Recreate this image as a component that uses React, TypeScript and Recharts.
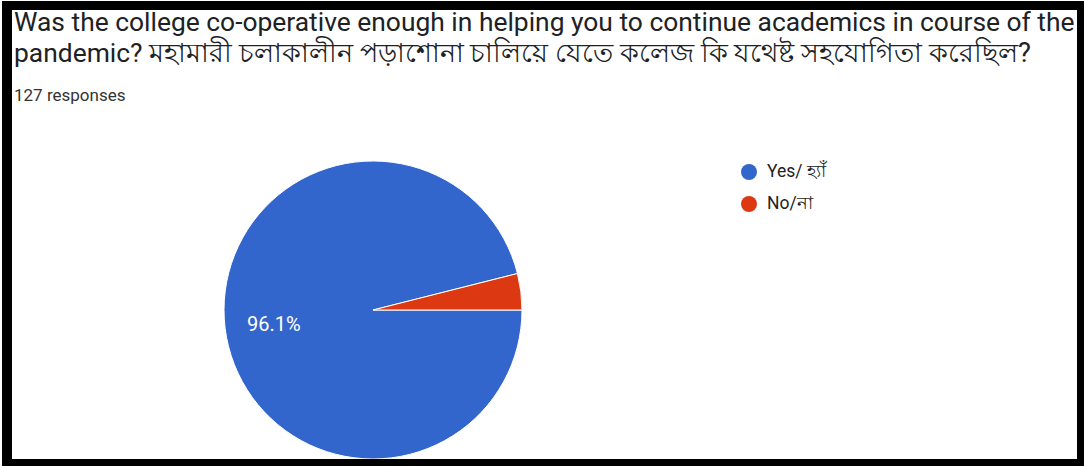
import { PieChart, Pie, Cell, Legend } from 'recharts'

const answers = ['Yes/ হ্যাঁ', 'No/না']
const counts = [122, 5]
const colors = ['#3366cc', '#dc3912']

const titleLine1 = 'Was the college co-operative enough in helping you to continue academics in course of the'
const titleLine2En = 'pandemic? '
const titleLine2Bn = 'মহামারী চলাকালীন পড়াশোনা চালিয়ে যেতে কলেজ কি যথেষ্ট সহযোগিতা করেছিল?'
const responsesText = '127 responses'

const data = answers.map((name, i) => ({ name, value: counts[i] }))
const total = counts.reduce((a, b) => a + b, 0)

const RAD = Math.PI / 180

function renderLabel(props: any) {
  const { cx, cy, midAngle, outerRadius, value, index } = props
  const pct = (value / total) * 100
  if (pct < 10) return null
  const r = outerRadius * 0.67
  const x = cx + r * Math.cos(-midAngle * RAD)
  const y = cy + r * Math.sin(-midAngle * RAD)
  return (
    <text
      key={`lbl-${index}`}
      x={x}
      y={y + 2}
      fill="#ffffff"
      fontSize={20}
      fontFamily="Roboto, Arial, sans-serif"
      textAnchor="middle"
      dominantBaseline="central"
    >
      {pct.toFixed(1)}%
    </text>
  )
}

function renderLegend(props: any) {
  // keep the legend in data order (Yes first)
  const payload = [...(props.payload || [])].sort(
    (a: any, b: any) => answers.indexOf(a.value) - answers.indexOf(b.value),
  )
  return (
    <div style={{ fontFamily: 'Roboto, Arial, sans-serif', fontSize: 17.5, color: '#222' }}>
      {payload.map((entry: any, i: number) => (
        <div key={i} style={{ display: 'flex', alignItems: 'center', height: 32 }}>
          <span
            style={{
              width: 16,
              height: 16,
              borderRadius: '50%',
              background: entry.color,
              display: 'inline-block',
              marginRight: 10,
            }}
          />
          <span>{entry.value}</span>
        </div>
      ))}
    </div>
  )
}

export default function App() {
  return (
    <div style={{ position: 'absolute', left: 0, top: 0, width: 1084, height: 466, background: '#fff', overflow: 'hidden' }}>
      <PieChart
        width={1084}
        height={466}
        margin={{ top: 0, right: 0, bottom: 0, left: 0 }}
        style={{ position: 'absolute', left: 0, top: 0 }}
      >
        <Pie
          data={data}
          dataKey="value"
          nameKey="name"
          cx={373}
          cy={310}
          outerRadius={149}
          startAngle={0}
          endAngle={-360}
          stroke="#ffffff"
          strokeWidth={1}
          label={renderLabel}
          labelLine={false}
          isAnimationActive={false}
        >
          {data.map((d, i) => (
            <Cell key={d.name} fill={colors[i]} />
          ))}
        </Pie>
        <Legend
          layout="vertical"
          content={renderLegend}
          wrapperStyle={{ position: 'absolute', left: 741, top: 156, width: 200 }}
        />
      </PieChart>
      <div
        style={{
          position: 'absolute',
          left: 2,
          top: 1,
          width: 1082,
          height: 465,
          boxSizing: 'border-box',
          borderStyle: 'solid',
          borderColor: '#000',
          borderWidth: '9px 7px 7px 10px',
          pointerEvents: 'none',
        }}
      />
      <div
        style={{
          position: 'absolute',
          left: 14,
          top: 6,
          fontFamily: 'Roboto, Arial, sans-serif',
          color: '#202124',
          whiteSpace: 'nowrap',
        }}
      >
        <div style={{ fontSize: 26.4, lineHeight: '32px' }}>{titleLine1}</div>
        <div style={{ fontSize: 26.4, lineHeight: '31px' }}>
          {titleLine2En}
          <span style={{ fontSize: 27.3 }}>{titleLine2Bn}</span>
        </div>
        <div style={{ fontSize: 17, lineHeight: '24px', marginTop: 14, color: '#333' }}>{responsesText}</div>
      </div>
    </div>
  )
}
